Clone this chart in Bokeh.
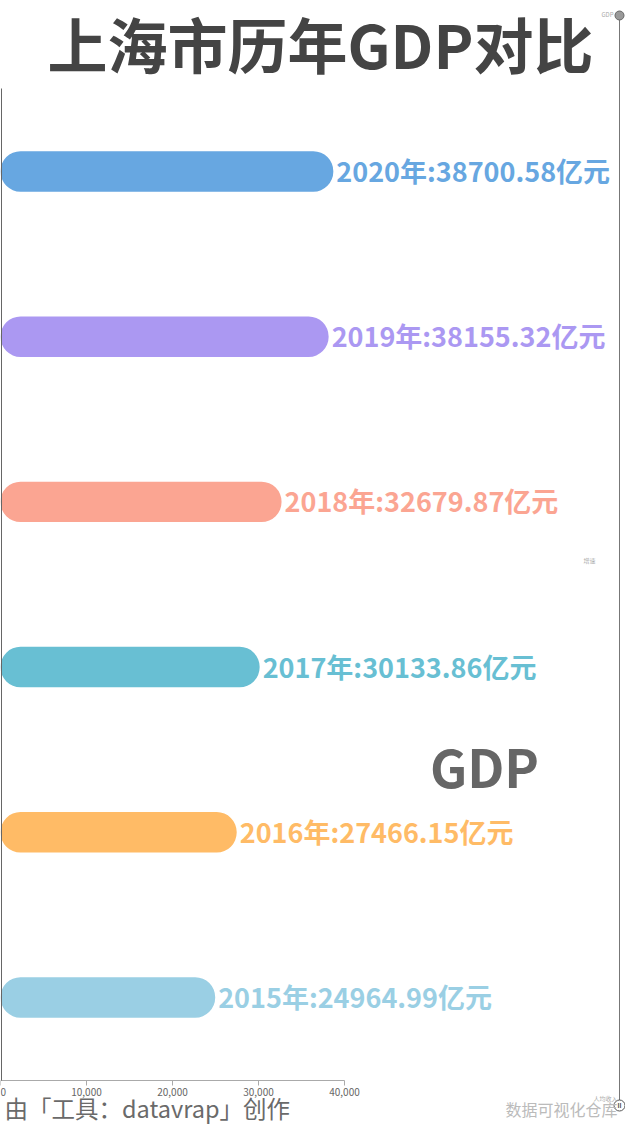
from bokeh.plotting import figure
from bokeh.models import (ColumnDataSource, Range1d, LabelSet, Label,
                          FixedTicker, NumeralTickFormatter)
from bokeh.core.properties import value, field
from bokeh.embed import file_html
from bokeh.resources import INLINE

years = [2015, 2016, 2017, 2018, 2019, 2020]
gdp = [24964.99, 27466.15, 30133.86, 32679.87, 38155.32, 38700.58]
colors = ["#9ACFE4", "#FFBB66", "#68BFD3", "#FBA592", "#AB98F2", "#67A7E1"]
x_ticks = [0, 10000, 20000, 30000, 40000]
title_text = "上海市历年GDP对比"
credit_text = "由「工具：datavrap」创作"
watermark_text = "数据可视化仓库"
timeline_labels = ["GDP", "增速", "人均收入"]

FONT = "Noto Sans CJK SC"
W, H = 625, 1124

labels = [f"{y}年:{v:.2f}亿元" for y, v in zip(years, gdp)]
src = ColumnDataSource(dict(year=years, value=gdp, color=colors, label=labels))

p = figure(frame_width=W, frame_height=H,
           x_range=Range1d(0, 40000 * W / 344), y_range=Range1d(2014.231, 2021.035),
           min_border=0, output_backend="svg", toolbar_location=None)
p.extra_x_ranges = {"px": Range1d(0, W)}
p.extra_y_ranges = {"px": Range1d(H, 0)}
p.outline_line_color = None
p.background_fill_color = "white"
p.border_fill_color = "white"
p.xgrid.grid_line_color = None
p.ygrid.grid_line_color = None

xa = p.xaxis[0]
xa.fixed_location = 2014.5
xa.bounds = (0, 40000)
xa.ticker = FixedTicker(ticks=x_ticks)
xa.formatter = NumeralTickFormatter(format="0,0")
xa.axis_line_color = "#aaaaaa"
xa.major_tick_line_color = "#aaaaaa"
xa.major_tick_in = 0
xa.major_tick_out = 5
xa.minor_tick_line_color = None
xa.major_label_text_font = FONT
xa.major_label_text_font_size = "10px"
xa.major_label_text_color = "#666666"
xa.major_label_standoff = 3

ya = p.yaxis[0]
ya.fixed_location = 100
ya.bounds = (2014.5, 2020.5)
ya.ticker = FixedTicker(ticks=[])
ya.axis_line_color = "#666666"
ya.major_tick_line_color = None
ya.minor_tick_line_color = None
ya.major_label_text_font_size = "0px"

p.hbar(y="year", right="value", left=0, height=0.245, source=src,
       fill_color="color", line_color=None, border_radius=20)

p.add_layout(LabelSet(x="value", y="year", text="label", source=src, x_offset=3,
                      y_offset=1,
                      text_baseline="middle", text_align="left",
                      text_font=value(FONT), text_font_style="bold",
                      text_font_size="27px", text_color=field("color")))


def px_label(x, y, text, size, color, bold=False, align="center"):
    p.add_layout(Label(x=x, y=y, x_range_name="px", y_range_name="px", text=text,
                       text_align=align, text_baseline="middle", text_font=FONT,
                       text_font_style="bold" if bold else "normal",
                       text_font_size=size, text_color=color))


px_label(320, 42, title_text, "60px", "#444444", bold=True)
px_label(484, 765, "GDP", "52px", "#666666", bold=True)
px_label(4, 1107, credit_text, "23.5px", "#6a6a6a", align="left")
px_label(505, 1108, watermark_text, "16px", "#bbbbbb", align="left")

# timeline on the right
TX = 619
p.segment(x0=[TX], y0=[15], x1=[TX], y1=[1105], x_range_name="px", y_range_name="px",
          line_color="#777777", line_width=1)
p.scatter(x=[TX], y=[15], size=9, x_range_name="px", y_range_name="px",
          fill_color="#999999", line_color="#666666", line_width=1)
p.scatter(x=[TX], y=[1105], size=11, x_range_name="px", y_range_name="px",
          fill_color="white", line_color="#555555", line_width=1)
px_label(TX, 1105, "II", "6px", "#444444", bold=True)
px_label(TX - 12, 14, timeline_labels[0], "6px", "#aaaaaa")
px_label(TX - 30, 560, timeline_labels[1], "6px", "#aaaaaa")
px_label(TX - 14, 1098, timeline_labels[2], "6px", "#aaaaaa")

open("out.html", "w").write(file_html(p, INLINE))
